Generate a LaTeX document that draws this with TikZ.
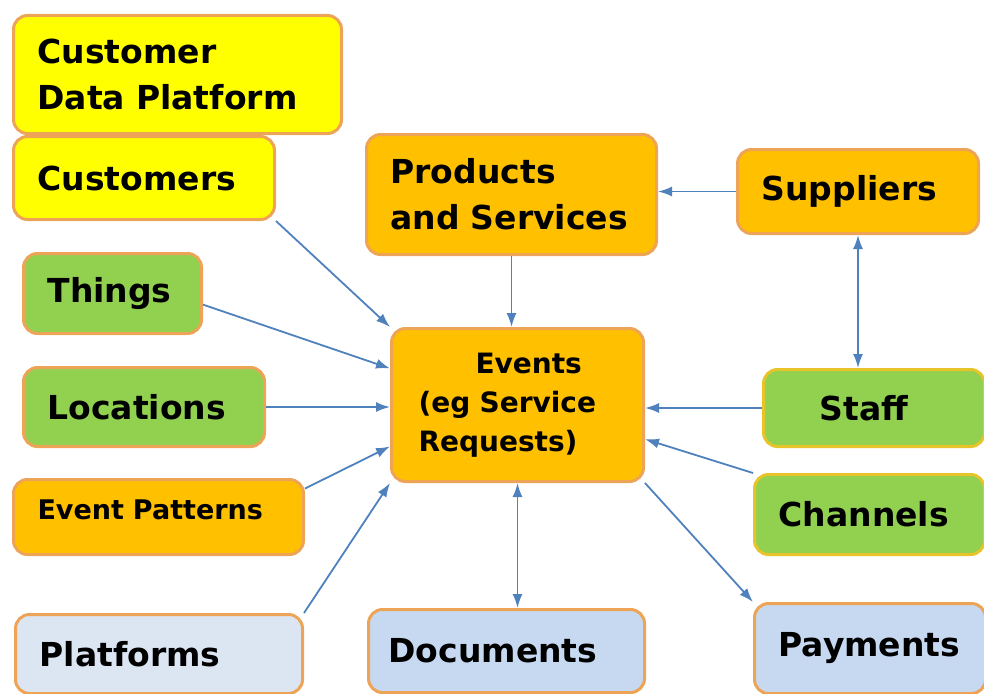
\documentclass[tikz,border=0pt]{standalone}
\usepackage{fontspec}
\setmainfont{DejaVu Sans}
\usetikzlibrary{arrows.meta}
\definecolor{ylw}{HTML}{FFFF00}
\definecolor{org}{HTML}{FFC000}
\definecolor{grn}{HTML}{92D050}
\definecolor{blu}{HTML}{C6D9F1}
\definecolor{bluL}{HTML}{DCE6F2}
\definecolor{rim}{HTML}{EDA456}
\definecolor{rimY}{HTML}{E6C42A}
\definecolor{lnk}{HTML}{4F81BD}
\tikzset{
	head/.tip={Latex[length=14pt,width=10pt]},
	tile/.style={draw=rim, line width=3pt, rounded corners=14pt, anchor=north west, inner xsep=24pt, inner ysep=0pt, align=left, font=\bfseries\fontsize{33}{46}\selectfont},
	wh/.style 2 args={minimum width=#1pt, minimum height=#2pt, text width=#1pt-48pt},
	link/.style={draw=lnk, line width=1.8pt, -head},
}

\begin{document}
\begin{tikzpicture}[x=1pt,y=-1pt]
			%%%%% START %%%%%
			\useasboundingbox (0,0) rectangle (984,693);
			
			\node[tile, fill=ylw, wh={328}{118}] (cdp) at (12,14) {Customer\\Data Platform};
			\node[tile, fill=ylw, wh={261}{83}] (cust) at (12,135) {Customers};
			\node[tile, fill=org, wh={290}{120}] (prod) at (365,133) {Products\\and Services};
			\node[tile, fill=org, wh={241}{84}] (sup) at (736,148) {Suppliers};
			
			\node[tile, fill=grn, wh={178}{80}] (thg) at (22,252) {Things};
			\node[tile, fill=grn, wh={241}{79}] (loc) at (22,366) {Locations};
			\node[tile, fill=org, wh={290}{75}, text depth=14pt, font=\bfseries\fontsize{27}{36}\selectfont] (ep) at (12,478) {Event Patterns};
			
			\node[tile, fill=org, wh={252}{153}, inner xsep=27pt, text width=198pt, font=\bfseries\fontsize{28}{39}\selectfont] (ev) at (390,327) {\hspace*{57pt}Events\\(eg Service\\Requests)};
			
			\node[tile, draw=rimY, fill=grn, wh={221}{77}, inner xsep=56pt, text width=109pt] (stf) at (762,368) {Staff};
			\node[tile, draw=rimY, fill=grn, wh={230}{80}] (chn) at (753,473) {Channels};
			
			\node[tile, fill=bluL, wh={287}{79}] (plt) at (14,613) {Platforms};
			\node[tile, fill=blu, wh={276}{83}, inner xsep=20pt, text width=236pt] (doc) at (367,608) {Documents};
			\node[tile, fill=blu, wh={231}{90}, text depth=8pt] (pay) at (753,602) {Payments};
			
			% into the events box
			\draw[link] (cust.south east) -- (ev.north west);
			\draw[link] (thg.-7) -- (ev.164);
			\draw[link] (loc.east) -- (loc.east -| ev.west);
			\draw[link] (ep.11) -- (ev.198);
			\draw[link] (plt.north east) -- (ev.south west);
			\draw[link] (prod.south) -- (prod.south |- ev.north);
			\draw[link] (stf.west) -- (stf.west -| ev.east);
			\draw[link] (chn.north west) -- (ev.-15);
			
			% out of it, and the rest
			\draw[link] (ev.south east) -- (pay.north west);
			\draw[link, head-head] (ev.south) -- (ev.south |- doc.north);
			\draw[link] (sup.west) -- (sup.west -| prod.east);
			\draw[link, head-head] (sup.south) -- (sup.south |- stf.north);
			
			%%%%% END %%%%%
\end{tikzpicture}
\end{document}
